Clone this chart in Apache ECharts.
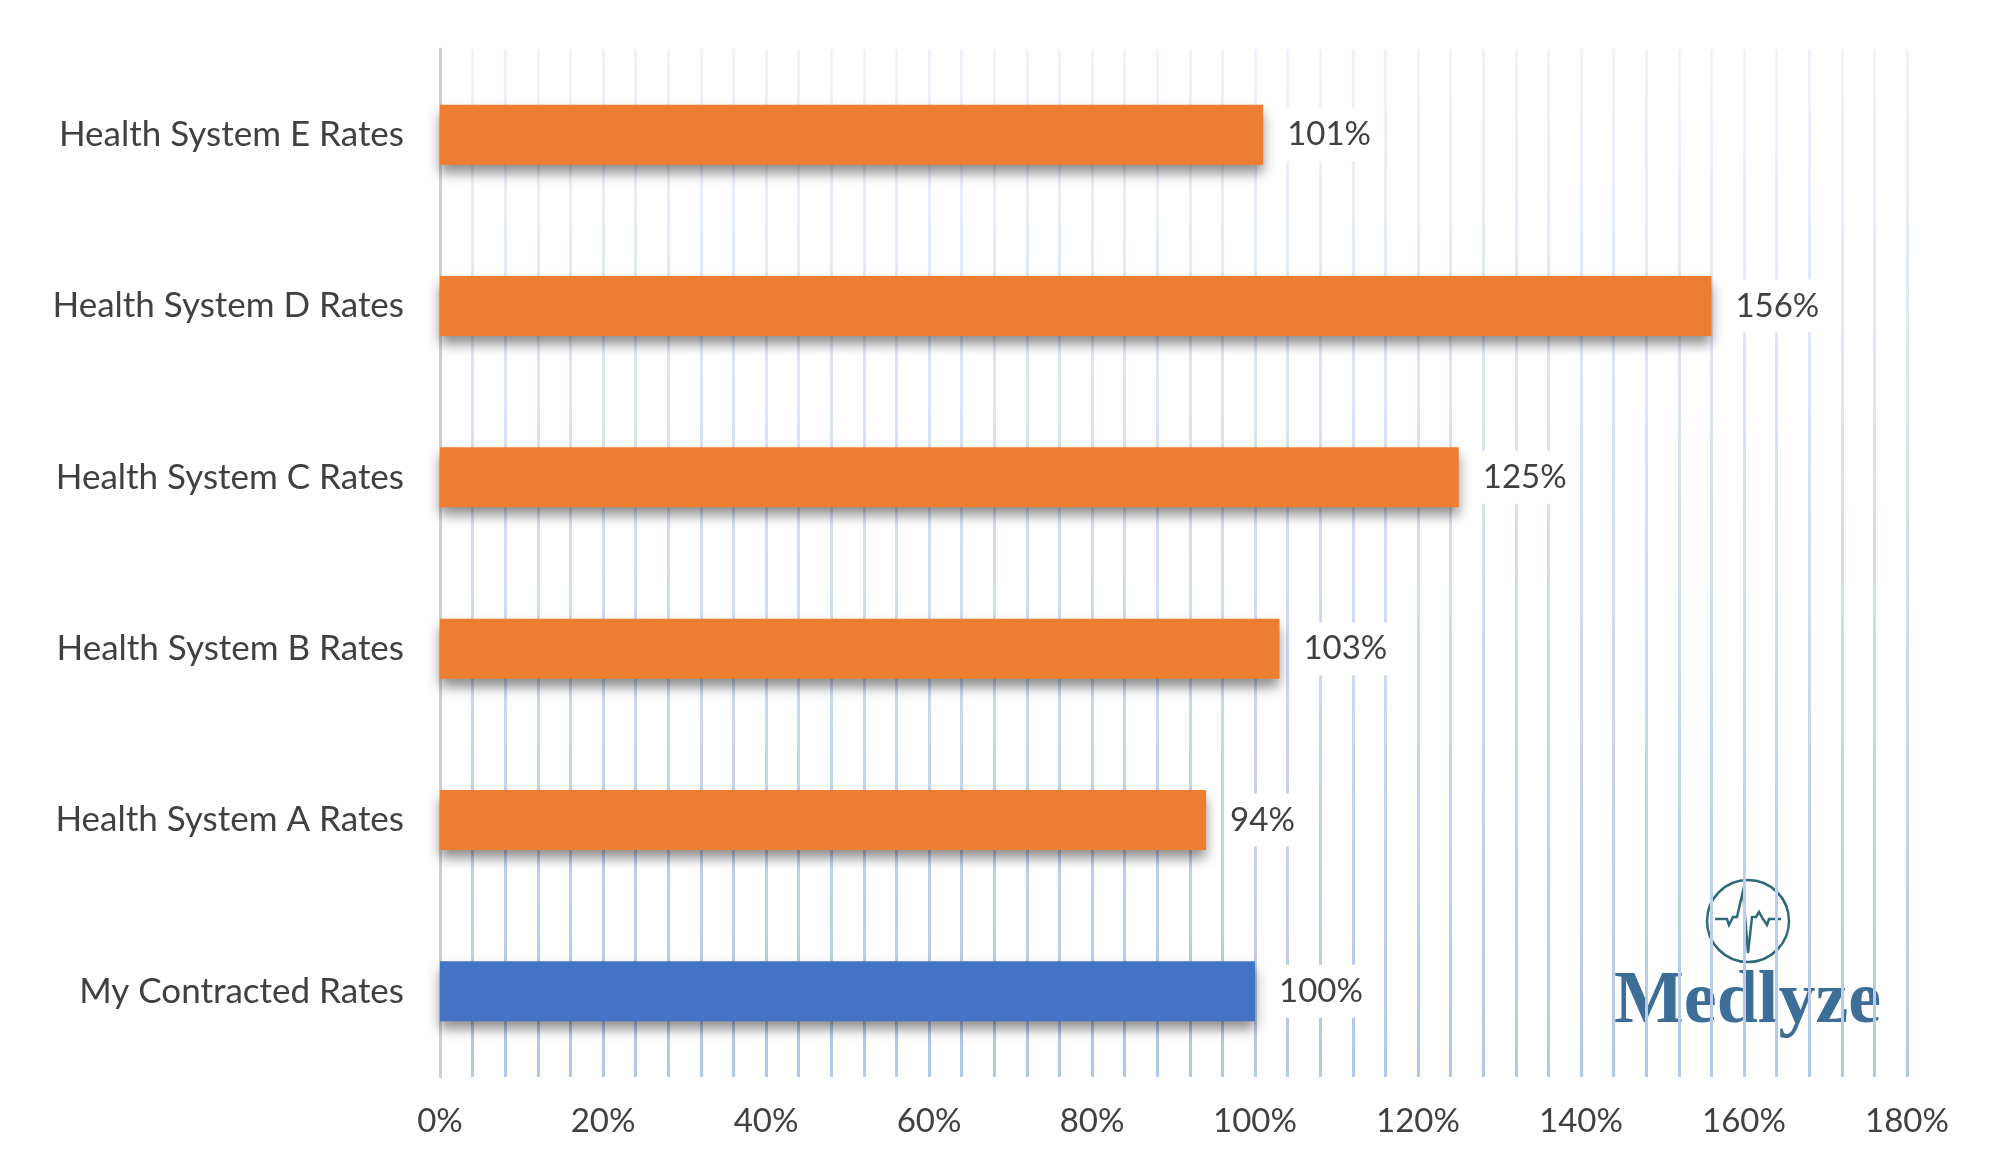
<!DOCTYPE html>
<html><head><meta charset="utf-8">
<script src="https://cdn.jsdelivr.net/npm/echarts@6/dist/echarts.min.js"></script>
<style>html,body{margin:0;background:#fff}#c{width:2000px;height:1173px}</style>
</head><body><div id="c"></div>
<script>
const categories = ["My Contracted Rates","Health System A Rates","Health System B Rates","Health System C Rates","Health System D Rates","Health System E Rates"];
const values = [100,94,103,125,156,101];
const barColors = ["#4472c4","#ed7d31","#ed7d31","#ed7d31","#ed7d31","#ed7d31"];
const chart = echarts.init(document.getElementById('c'));
const gridGrad = new echarts.graphic.LinearGradient(0,0,0,1,[{offset:0,color:'#f0f3fb'},{offset:1,color:'#b4c7e7'}]);
chart.setOption({
  animation:false,
  grid:{left:440,right:93,top:49,bottom:96},
  xAxis:{type:'value',min:0,max:180,interval:20,
    axisLabel:{formatter:'{value}%',fontFamily:'Lato',fontSize:33,color:'#404040',margin:28},
    axisLine:{show:false},axisTick:{show:false},
    splitLine:{show:true,lineStyle:{color:gridGrad,width:3}},
    minorTick:{show:false,splitNumber:5},
    minorSplitLine:{show:true,lineStyle:{color:gridGrad,width:3}}},
  yAxis:{type:'category',data:categories,
    axisLine:{show:true,lineStyle:{color:'#d0d0d0',width:3}},axisTick:{show:false},
    axisLabel:{fontFamily:'Lato',fontSize:35,color:'#404040',margin:36}},
  series:[{type:'bar',barWidth:'35%',
    data:values.map((v,i)=>({value:v,itemStyle:{color:barColors[i]}})),
    itemStyle:{shadowColor:'rgba(0,0,0,0.45)',shadowBlur:12,shadowOffsetY:8},
    label:{show:true,position:'right',formatter:'{c}%',fontFamily:'Lato',fontSize:33,color:'#404040',
      backgroundColor:'#fff',padding:[10,6],distance:18}}],
  graphic:[
    {type:'circle',shape:{cx:1748,cy:921,r:41},style:{fill:'none',stroke:'#2f6a78',lineWidth:2.5}},
    {type:'polyline',shape:{points:[[1715,919],[1727,919],[1729,925],[1733,917],[1737,917],[1743,891],[1748,953],[1752,917],[1756,917],[1759,912],[1763,919],[1767,925],[1769,919],[1781,919]]},style:{fill:'none',stroke:'#2f6a78',lineWidth:2.5}},
    {type:'text',x:1614,y:966,style:{text:'Medlyze',font:'bold 74px "Liberation Serif"',fill:'#3c6e98'}}
  ]
});
</script></body></html>
